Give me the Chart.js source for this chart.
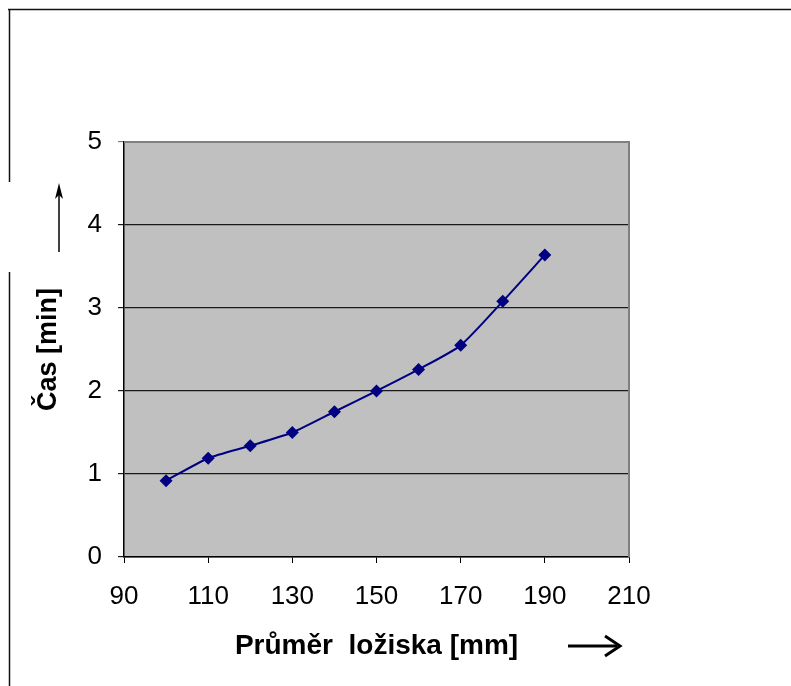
<!DOCTYPE html>
<html>
<head>
<meta charset="utf-8">
<script src="https://cdn.jsdelivr.net/npm/chart.js@4/dist/chart.umd.min.js"></script>
<style>
	body { margin: 0; background: #fff; }
	#wrap { width: 791px; height: 686px; }
</style>
</head>
<body>
<div id="wrap"><canvas id="chart" width="791" height="686"></canvas></div>
<script>
// Data
const diameters = [100, 110, 120, 130, 140, 150, 160, 170, 180, 190];
const times = [0.92, 1.19, 1.34, 1.5, 1.75, 2.0, 2.26, 2.55, 3.08, 3.64];
const xTitle = 'Průměr  ložiska [mm]';
const yTitle = 'Čas [min]';

const FONT = '"Liberation Sans", Arial, sans-serif';

// Gray plot area, outer frame and the two arrows
const decorPlugin = {
	id: 'decor',
	beforeDraw(chart) {
		const { ctx, chartArea: a } = chart;
		ctx.save();
		ctx.fillStyle = '#c0c0c0';
		ctx.fillRect(a.left, a.top, a.right - a.left, a.bottom - a.top);
		ctx.restore();
	},
	afterDraw(chart) {
		const { ctx, chartArea: a } = chart;
		ctx.save();
		// plot area border (top and right, gray)
		ctx.strokeStyle = '#808080';
		ctx.lineWidth = 2;
		ctx.beginPath();
		ctx.moveTo(a.left, a.top);
		ctx.lineTo(a.right, a.top);
		ctx.lineTo(a.right, a.bottom);
		ctx.stroke();

		// outer frame
		ctx.strokeStyle = '#111';
		ctx.lineWidth = 1.5;
		ctx.beginPath();
		ctx.moveTo(8, 9.5);
		ctx.lineTo(791, 9.5);
		ctx.moveTo(9.5, 9);
		ctx.lineTo(9.5, 182);
		ctx.moveTo(9.5, 272);
		ctx.lineTo(9.5, 686);
		ctx.stroke();

		// up arrow next to the y title
		ctx.strokeStyle = '#000';
		ctx.fillStyle = '#000';
		ctx.lineWidth = 1.5;
		ctx.beginPath();
		ctx.moveTo(59, 252);
		ctx.lineTo(59, 192);
		ctx.stroke();
		ctx.beginPath();
		ctx.moveTo(59, 183);
		ctx.lineTo(55, 199);
		ctx.lineTo(59, 195);
		ctx.lineTo(63, 199);
		ctx.closePath();
		ctx.fill();

		// right arrow after the x title
		ctx.lineWidth = 3;
		ctx.beginPath();
		ctx.moveTo(568, 646);
		ctx.lineTo(617, 646);
		ctx.stroke();
		ctx.lineWidth = 3;
		ctx.beginPath();
		ctx.moveTo(605, 636);
		ctx.lineTo(620, 646);
		ctx.lineTo(605, 656);
		ctx.stroke();
		ctx.restore();
	},
};

new Chart(document.getElementById('chart'), {
	type: 'line',
	data: {
		datasets: [
			{
				data: diameters.map((d, i) => ({ x: d, y: times[i] })),
				borderColor: '#000080',
				backgroundColor: '#000080',
				borderWidth: 2,
				tension: 0.2,
				pointStyle: 'rectRot',
				pointRadius: 6.5,
				pointBorderWidth: 0,
			},
		],
	},
	options: {
		responsive: false,
		animation: false,
		layout: { padding: { top: 142, right: 162, left: 0, bottom: 0 } },
		plugins: {
			legend: { display: false },
			tooltip: { enabled: false },
		},
		scales: {
			x: {
				type: 'linear',
				min: 90,
				max: 210,
				ticks: {
					stepSize: 20,
					color: '#000',
					padding: 18,
					maxRotation: 0,
					font: { family: FONT, size: 26 },
				},
				grid: {
					drawOnChartArea: false,
					tickLength: 6,
					color: '#000',
				},
				border: { color: '#000', width: 1.5 },
				title: {
					display: true,
					text: xTitle,
					color: '#000',
					padding: { bottom: 23 },
					font: { family: FONT, size: 28, weight: 'bold' },
				},
				afterFit(scale) {
					scale.height = 129;
				},
			},
			y: {
				min: 0,
				max: 5,
				ticks: {
					stepSize: 1,
					color: '#000',
					padding: 16,
					font: { family: FONT, size: 26 },
				},
				grid: {
					tickLength: 6,
					lineWidth: 1.2,
					color: (c) => (c.tick && c.tick.value === 5 ? '#808080' : '#1a1a1a'),
				},
				border: { color: '#000', width: 1.5 },
				title: {
					display: true,
					text: yTitle,
					color: '#000',
					padding: { top: 32 },
					font: { family: FONT, size: 27, weight: 'bold' },
				},
				afterFit(scale) {
					scale.width = 124;
				},
			},
		},
	},
	plugins: [decorPlugin],
});
</script>
</body>
</html>
